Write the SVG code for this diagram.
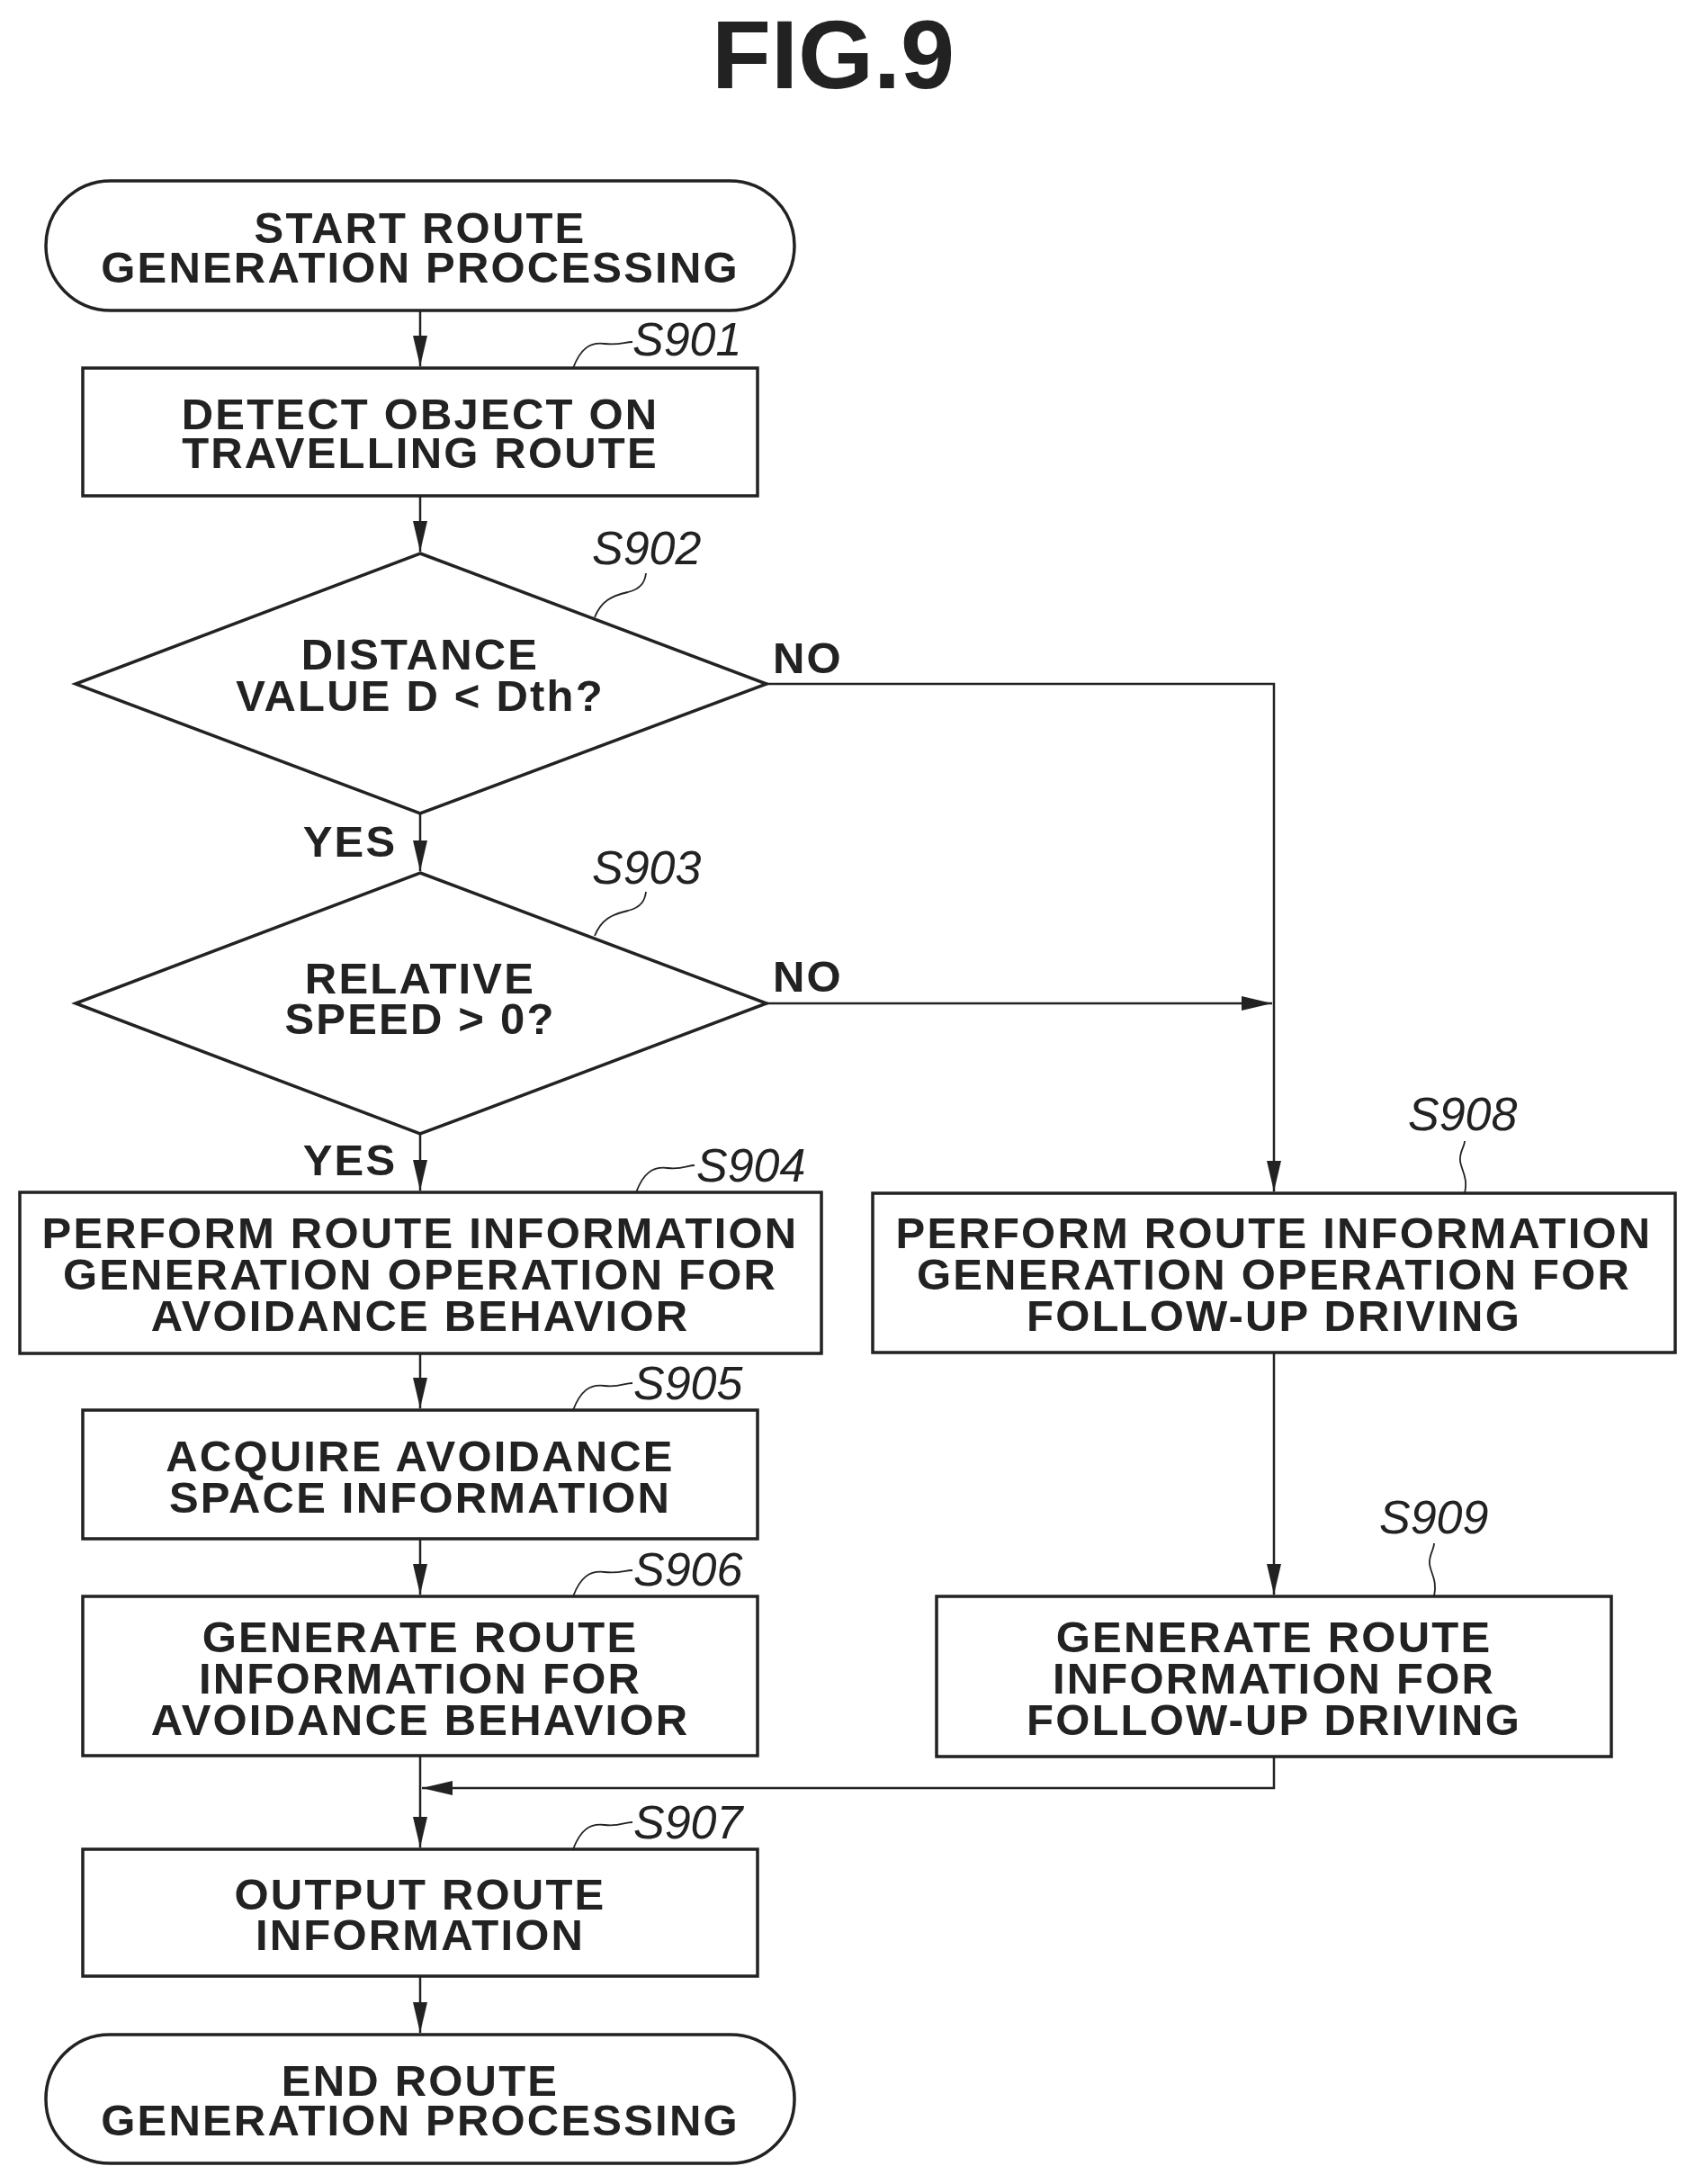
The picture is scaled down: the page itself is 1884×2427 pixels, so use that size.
<svg xmlns="http://www.w3.org/2000/svg" width="1884" height="2427" viewBox="0 0 1884 2427">
<style>
.b{fill:#fff;stroke:#222;stroke-width:3.5}
.t{font-family:"Liberation Sans",Arial,sans-serif;font-weight:bold;font-size:49px;letter-spacing:2.2px;text-anchor:middle;fill:#222}
.s{text-anchor:start}
.l{font-family:"Liberation Sans",Arial,sans-serif;font-style:italic;font-size:52px;fill:#222}
.c{fill:none;stroke:#222;stroke-width:2.5}
.ld{fill:none;stroke:#222;stroke-width:1.8}
</style>
<defs>
<marker id="a" markerUnits="userSpaceOnUse" markerWidth="34" markerHeight="20" viewBox="0 0 34 20" refX="34" refY="10" orient="auto">
<path d="M0,2 L34,10 L0,18 Z" fill="#222"/>
</marker>
</defs>
<rect width="1884" height="2427" fill="#fff"/>
<text x="926" y="98" font-family="Liberation Sans,Arial,sans-serif" font-weight="bold" font-size="108" text-anchor="middle" fill="#222">FIG.9</text>
<g id="connectors">
<path class="c" d="M467,345 V407" marker-end="url(#a)"/>
<path class="c" d="M467,551 V613" marker-end="url(#a)"/>
<path class="c" d="M467,904 V968" marker-end="url(#a)"/>
<path class="c" d="M467,1260 V1323" marker-end="url(#a)"/>
<path class="c" d="M467,1504 V1565" marker-end="url(#a)"/>
<path class="c" d="M467,1710 V1772" marker-end="url(#a)"/>
<path class="c" d="M467,1951 V2053" marker-end="url(#a)"/>
<path class="c" d="M467,2196 V2259" marker-end="url(#a)"/>
<path class="c" d="M852,760 H1416 V1324" marker-end="url(#a)"/>
<path class="c" d="M852,1115 H1414" marker-end="url(#a)"/>
<path class="c" d="M1416,1503 V1772" marker-end="url(#a)"/>
<path class="c" d="M1416,1952 V1987 H469" marker-end="url(#a)"/>
<text class="t s" x="859" y="748">NO</text>
<text class="t s" x="859" y="1102">NO</text>
<text class="t" x="389" y="952">YES</text>
<text class="t" x="389" y="1306">YES</text>
</g>
<g id="start">
<rect class="b" x="51" y="201" width="832" height="144" rx="72"/>
<text class="t" x="467" y="270">START ROUTE</text>
<text class="t" x="467" y="314">GENERATION PROCESSING</text>
</g>
<g id="S901">
<rect class="b" x="92" y="409" width="750" height="142"/>
<text class="t" x="467" y="477">DETECT OBJECT ON</text>
<text class="t" x="467" y="520">TRAVELLING ROUTE</text>
<path class="ld" d="M637,409 C645,388 655,380 672,382 C688,384 694,380 703,380"/>
<text class="l" x="703" y="395">S901</text>
</g>
<g id="S902">
<polygon class="b" points="467,615 852,760 467,904 84,760"/>
<text class="t" x="467" y="744">DISTANCE</text>
<text class="t" x="467" y="790">VALUE D &lt; Dth?</text>
<path class="ld" d="M661,686 C668,668 680,662 698,658 C714,654 717,645 718,637"/>
<text class="l" x="658" y="627">S902</text>
</g>
<g id="S903">
<polygon class="b" points="467,970 852,1115 467,1260 84,1115"/>
<text class="t" x="467" y="1104">RELATIVE</text>
<text class="t" x="467" y="1149">SPEED &gt; 0?</text>
<path class="ld" d="M661,1040 C668,1022 680,1016 698,1012 C714,1008 717,999 718,991"/>
<text class="l" x="658" y="982">S903</text>
</g>
<g id="S904">
<rect class="b" x="22" y="1325" width="891" height="179"/>
<text class="t" x="467" y="1387">PERFORM ROUTE INFORMATION</text>
<text class="t" x="467" y="1433">GENERATION OPERATION FOR</text>
<text class="t" x="467" y="1479">AVOIDANCE BEHAVIOR</text>
<path class="ld" d="M707,1325 C715,1304 725,1296 742,1298 C758,1300 764,1295 772,1295"/>
<text class="l" x="774" y="1313">S904</text>
</g>
<g id="S905">
<rect class="b" x="92" y="1567" width="750" height="143"/>
<text class="t" x="467" y="1635">ACQUIRE AVOIDANCE</text>
<text class="t" x="467" y="1681">SPACE INFORMATION</text>
<path class="ld" d="M637,1567 C645,1546 655,1538 672,1540 C688,1542 694,1537 703,1537"/>
<text class="l" x="704" y="1555">S905</text>
</g>
<g id="S906">
<rect class="b" x="92" y="1774" width="750" height="177"/>
<text class="t" x="467" y="1836">GENERATE ROUTE</text>
<text class="t" x="467" y="1882">INFORMATION FOR</text>
<text class="t" x="467" y="1928">AVOIDANCE BEHAVIOR</text>
<path class="ld" d="M637,1774 C645,1753 655,1745 672,1747 C688,1749 694,1745 703,1745"/>
<text class="l" x="704" y="1762">S906</text>
</g>
<g id="S907">
<rect class="b" x="92" y="2055" width="750" height="141"/>
<text class="t" x="467" y="2122">OUTPUT ROUTE</text>
<text class="t" x="467" y="2167">INFORMATION</text>
<path class="ld" d="M637,2055 C645,2034 655,2026 672,2028 C688,2030 694,2025 703,2025"/>
<text class="l" x="704" y="2043">S907</text>
</g>
<g id="end">
<rect class="b" x="51" y="2261" width="832" height="143" rx="71"/>
<text class="t" x="467" y="2329">END ROUTE</text>
<text class="t" x="467" y="2373">GENERATION PROCESSING</text>
</g>
<g id="S908">
<rect class="b" x="970" y="1326" width="892" height="177"/>
<text class="t" x="1416" y="1387">PERFORM ROUTE INFORMATION</text>
<text class="t" x="1416" y="1433">GENERATION OPERATION FOR</text>
<text class="t" x="1416" y="1479">FOLLOW-UP DRIVING</text>
<path class="ld" d="M1628,1326 C1632,1308 1624,1300 1623,1290 C1622,1280 1628,1274 1628,1268"/>
<text class="l" x="1565" y="1256">S908</text>
</g>
<g id="S909">
<rect class="b" x="1041" y="1774" width="750" height="178"/>
<text class="t" x="1416" y="1836">GENERATE ROUTE</text>
<text class="t" x="1416" y="1882">INFORMATION FOR</text>
<text class="t" x="1416" y="1928">FOLLOW-UP DRIVING</text>
<path class="ld" d="M1594,1774 C1598,1756 1590,1748 1589,1738 C1588,1728 1594,1722 1594,1715"/>
<text class="l" x="1533" y="1704">S909</text>
</g>
</svg>
